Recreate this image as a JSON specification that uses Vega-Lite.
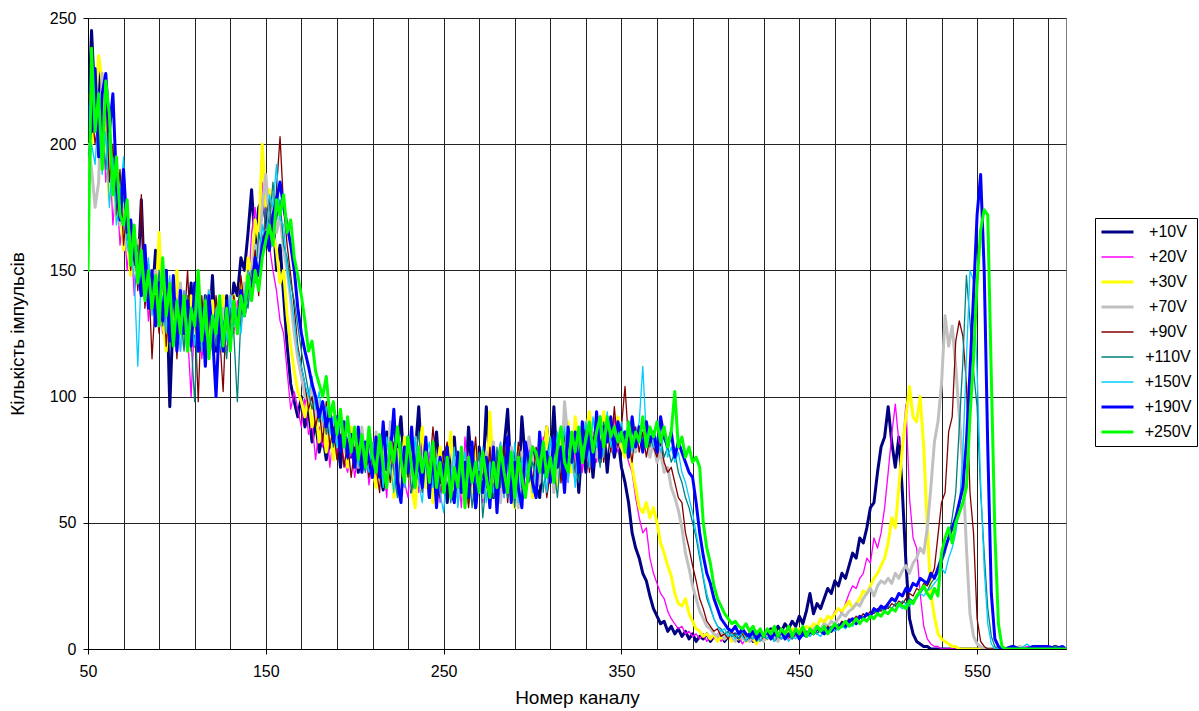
{
  "$schema": "https://vega.github.io/schema/vega-lite/v6.json",
  "width": 978,
  "height": 631,
  "autosize": "none",
  "padding": {"left": 88, "top": 18, "right": 133, "bottom": 62},
  "background": "white",
  "config": {
    "font": "Liberation Sans",
    "view": {"stroke": "#808080", "strokeWidth": 1},
    "axis": {
      "labelFont": "Liberation Sans",
      "titleFont": "Liberation Sans",
      "labelFontSize": 16,
      "titleFontSize": 19,
      "titleFontWeight": "normal",
      "labelColor": "#000",
      "titleColor": "#000",
      "domainColor": "#000",
      "tickColor": "#000",
      "gridColor": "#222",
      "gridOpacity": 1,
      "gridWidth": 1,
      "tickSize": 5
    }
  },
  "data": {"values": [
    {"x":50,"a":205,"b":190,"c":185,"d":200,"e":220,"f":195,"g":180,"h":215,"i":150},
    {"x":52,"a":245,"b":210,"c":200,"d":190,"e":215,"f":205,"g":200,"h":205,"i":238},
    {"x":54,"a":215,"b":220,"c":212,"d":175,"e":200,"f":225,"g":192,"h":230,"i":205},
    {"x":56,"a":230,"b":198,"c":235,"d":185,"e":210,"f":200,"g":215,"h":195,"i":220},
    {"x":58,"a":200,"b":215,"c":225,"d":228,"e":195,"f":210,"g":188,"h":220,"i":190},
    {"x":60,"a":210,"b":185,"c":205,"d":215,"e":222,"f":190,"g":205,"h":228,"i":225},
    {"x":62,"a":188,"b":200,"c":178,"d":195,"e":185,"f":208,"g":175,"h":205,"i":212},
    {"x":64,"a":195,"b":168,"c":190,"d":180,"e":200,"f":185,"g":195,"h":220,"i":180},
    {"x":66,"a":175,"b":185,"c":170,"d":190,"e":172,"f":178,"g":168,"h":185,"i":195},
    {"x":68,"a":182,"b":160,"c":180,"d":168,"e":190,"f":170,"g":178,"h":170,"i":172},
    {"x":70,"a":165,"b":172,"c":158,"d":175,"e":160,"f":180,"g":195,"h":190,"i":168},
    {"x":72,"a":172,"b":150,"c":165,"d":158,"e":175,"f":162,"g":160,"h":165,"i":178},
    {"x":74,"a":155,"b":165,"c":148,"d":170,"e":150,"f":168,"g":155,"h":170,"i":152},
    {"x":76,"a":162,"b":140,"c":160,"d":150,"e":165,"f":152,"g":148,"h":155,"i":168},
    {"x":78,"a":148,"b":155,"c":150,"d":162,"e":142,"f":160,"g":112,"h":150,"i":145},
    {"x":80,"a":178,"b":145,"c":140,"d":148,"e":180,"f":142,"g":150,"h":140,"i":158},
    {"x":82,"a":140,"b":152,"c":155,"d":140,"e":135,"f":150,"g":140,"h":160,"i":138},
    {"x":84,"a":150,"b":130,"c":138,"d":152,"e":150,"f":138,"g":155,"h":135,"i":150},
    {"x":86,"a":138,"b":145,"c":150,"d":135,"e":115,"f":148,"g":132,"h":150,"i":135},
    {"x":88,"a":158,"b":128,"c":135,"d":150,"e":140,"f":132,"g":145,"h":128,"i":148},
    {"x":90,"a":132,"b":140,"c":165,"d":138,"e":125,"f":150,"g":130,"h":145,"i":128},
    {"x":92,"a":145,"b":125,"c":130,"d":148,"e":150,"f":128,"g":140,"h":130,"i":155},
    {"x":94,"a":150,"b":138,"c":118,"d":130,"e":120,"f":145,"g":125,"h":150,"i":132},
    {"x":96,"a":96,"b":130,"c":145,"d":140,"e":138,"f":120,"g":148,"h":122,"i":145},
    {"x":98,"a":135,"b":120,"c":128,"d":125,"e":145,"f":140,"g":122,"h":148,"i":120},
    {"x":100,"a":140,"b":135,"c":150,"d":132,"e":115,"f":125,"g":138,"h":118,"i":138},
    {"x":102,"a":125,"b":118,"c":122,"d":145,"e":140,"f":135,"g":118,"h":142,"i":125},
    {"x":104,"a":138,"b":142,"c":135,"d":120,"e":128,"f":118,"g":142,"h":125,"i":140},
    {"x":106,"a":128,"b":125,"c":118,"d":138,"e":150,"f":140,"g":126,"h":138,"i":118},
    {"x":108,"a":145,"b":100,"c":140,"d":128,"e":118,"f":122,"g":132,"h":120,"i":135},
    {"x":110,"a":120,"b":132,"c":125,"d":140,"e":135,"f":98,"g":120,"h":145,"i":128},
    {"x":112,"a":132,"b":138,"c":148,"d":118,"e":98,"f":135,"g":140,"h":118,"i":150},
    {"x":114,"a":118,"b":115,"c":120,"d":135,"e":140,"f":125,"g":118,"h":135,"i":122},
    {"x":116,"a":140,"b":128,"c":132,"d":125,"e":120,"f":140,"g":130,"h":112,"i":138},
    {"x":118,"a":125,"b":118,"c":115,"d":142,"e":135,"f":118,"g":142,"h":140,"i":115},
    {"x":120,"a":148,"b":135,"c":138,"d":120,"e":118,"f":132,"g":120,"h":125,"i":132},
    {"x":122,"a":118,"b":122,"c":125,"d":130,"e":140,"f":120,"g":135,"h":100,"i":125},
    {"x":124,"a":135,"b":140,"c":118,"d":118,"e":125,"f":138,"g":118,"h":132,"i":140},
    {"x":126,"a":122,"b":125,"c":140,"d":135,"e":102,"f":125,"g":130,"h":118,"i":120},
    {"x":128,"a":140,"b":118,"c":128,"d":125,"e":138,"f":115,"g":122,"h":138,"i":135},
    {"x":130,"a":130,"b":135,"c":120,"d":140,"e":122,"f":135,"g":140,"h":122,"i":118},
    {"x":132,"a":145,"b":125,"c":140,"d":128,"e":140,"f":125,"g":128,"h":135,"i":138},
    {"x":134,"a":140,"b":138,"c":125,"d":135,"e":130,"f":98,"g":135,"h":128,"i":125},
    {"x":136,"a":155,"b":130,"c":145,"d":130,"e":148,"f":132,"g":125,"h":142,"i":140},
    {"x":138,"a":150,"b":145,"c":135,"d":145,"e":135,"f":140,"g":140,"h":132,"i":132},
    {"x":140,"a":165,"b":140,"c":155,"d":138,"e":150,"f":135,"g":150,"h":145,"i":148},
    {"x":142,"a":182,"b":165,"c":148,"d":150,"e":145,"f":150,"g":142,"h":140,"i":138},
    {"x":144,"a":160,"b":175,"c":170,"d":160,"e":158,"f":145,"g":155,"h":155,"i":150},
    {"x":146,"a":175,"b":158,"c":162,"d":155,"e":140,"f":165,"g":150,"h":148,"i":142},
    {"x":148,"a":178,"b":185,"c":200,"d":175,"e":162,"f":158,"g":168,"h":160,"i":155},
    {"x":150,"a":170,"b":168,"c":175,"d":188,"e":170,"f":175,"g":160,"h":165,"i":162},
    {"x":152,"a":158,"b":160,"c":182,"d":168,"e":178,"f":168,"g":180,"h":158,"i":168},
    {"x":154,"a":172,"b":150,"c":165,"d":180,"e":160,"f":185,"g":175,"h":172,"i":160},
    {"x":156,"a":150,"b":142,"c":158,"d":165,"e":182,"f":170,"g":192,"h":178,"i":178},
    {"x":158,"a":160,"b":130,"c":145,"d":172,"e":203,"f":178,"g":170,"h":185,"i":172},
    {"x":160,"a":140,"b":125,"c":150,"d":158,"e":175,"f":160,"g":168,"h":175,"i":180},
    {"x":162,"a":120,"b":110,"c":132,"d":150,"e":160,"f":155,"g":150,"h":168,"i":165},
    {"x":164,"a":105,"b":95,"c":120,"d":138,"e":148,"f":145,"g":140,"h":160,"i":170},
    {"x":166,"a":98,"b":102,"c":110,"d":125,"e":135,"f":138,"g":130,"h":150,"i":155},
    {"x":168,"a":92,"b":95,"c":102,"d":115,"e":120,"f":128,"g":118,"h":135,"i":148},
    {"x":170,"a":100,"b":88,"c":98,"d":108,"e":112,"f":118,"g":112,"h":125,"i":140},
    {"x":172,"a":88,"b":100,"c":92,"d":100,"e":105,"f":110,"g":105,"h":118,"i":130},
    {"x":174,"a":95,"b":85,"c":100,"d":98,"e":95,"f":102,"g":100,"h":112,"i":118},
    {"x":176,"a":82,"b":90,"c":88,"d":105,"e":100,"f":95,"g":108,"h":105,"i":122},
    {"x":178,"a":90,"b":75,"c":95,"d":92,"e":88,"f":100,"g":95,"h":100,"i":110},
    {"x":180,"a":78,"b":88,"c":82,"d":98,"e":95,"f":90,"g":102,"h":92,"i":105},
    {"x":182,"a":85,"b":80,"c":90,"d":88,"e":82,"f":98,"g":90,"h":98,"i":100},
    {"x":184,"a":75,"b":92,"c":78,"d":95,"e":98,"f":85,"g":96,"h":88,"i":108},
    {"x":186,"a":82,"b":72,"c":88,"d":85,"e":80,"f":92,"g":85,"h":95,"i":92},
    {"x":188,"a":78,"b":85,"c":75,"d":92,"e":88,"f":80,"g":92,"h":82,"i":98},
    {"x":190,"a":85,"b":78,"c":90,"d":80,"e":75,"f":88,"g":80,"h":92,"i":85},
    {"x":192,"a":72,"b":82,"c":80,"d":88,"e":85,"f":78,"g":90,"h":78,"i":95},
    {"x":194,"a":88,"b":75,"c":85,"d":78,"e":72,"f":85,"g":82,"h":90,"i":80},
    {"x":196,"a":80,"b":70,"c":72,"d":90,"e":82,"f":75,"g":88,"h":76,"i":92},
    {"x":198,"a":76,"b":80,"c":88,"d":82,"e":68,"f":82,"g":78,"h":85,"i":78},
    {"x":200,"a":82,"b":68,"c":75,"d":85,"e":80,"f":72,"g":85,"h":72,"i":88},
    {"x":202,"a":70,"b":78,"c":82,"d":72,"e":75,"f":80,"g":72,"h":88,"i":75},
    {"x":204,"a":85,"b":72,"c":70,"d":88,"e":70,"f":76,"g":82,"h":70,"i":85},
    {"x":206,"a":72,"b":82,"c":78,"d":75,"e":82,"f":70,"g":75,"h":82,"i":72},
    {"x":208,"a":78,"b":65,"c":85,"d":80,"e":68,"f":82,"g":70,"h":75,"i":88},
    {"x":210,"a":68,"b":75,"c":72,"d":70,"e":78,"f":74,"g":82,"h":68,"i":76},
    {"x":212,"a":82,"b":68,"c":64,"d":86,"e":72,"f":79,"g":70,"h":84,"i":70},
    {"x":214,"a":71,"b":80,"c":83,"d":70,"e":62,"f":73,"g":81,"h":68,"i":85},
    {"x":216,"a":63,"b":74,"c":77,"d":81,"e":88,"f":70,"g":64,"h":90,"i":72},
    {"x":218,"a":86,"b":60,"c":68,"d":66,"e":76,"f":65,"g":84,"h":71,"i":64},
    {"x":220,"a":78,"b":85,"c":80,"d":90,"e":66,"f":84,"g":73,"h":77,"i":82},
    {"x":222,"a":66,"b":70,"c":60,"d":72,"e":82,"f":71,"g":62,"h":95,"i":74},
    {"x":224,"a":80,"b":64,"c":79,"d":62,"e":70,"f":60,"g":88,"h":66,"i":88},
    {"x":226,"a":92,"b":78,"c":68,"d":80,"e":60,"f":82,"g":74,"h":58,"i":75},
    {"x":228,"a":70,"b":66,"c":84,"d":71,"e":78,"f":68,"g":64,"h":80,"i":66},
    {"x":230,"a":84,"b":60,"c":72,"d":77,"e":68,"f":76,"g":82,"h":70,"i":84},
    {"x":232,"a":62,"b":82,"c":64,"d":65,"e":86,"f":62,"g":70,"h":88,"i":72},
    {"x":234,"a":77,"b":70,"c":56,"d":84,"e":64,"f":74,"g":84,"h":66,"i":64},
    {"x":236,"a":96,"b":62,"c":78,"d":68,"e":74,"f":86,"g":66,"h":75,"i":80},
    {"x":238,"a":70,"b":84,"c":88,"d":74,"e":62,"f":68,"g":58,"h":64,"i":70},
    {"x":240,"a":80,"b":68,"c":64,"d":82,"e":78,"f":80,"g":76,"h":84,"i":78},
    {"x":242,"a":60,"b":78,"c":74,"d":66,"e":70,"f":64,"g":82,"h":60,"i":66},
    {"x":244,"a":74,"b":64,"c":58,"d":78,"e":88,"f":75,"g":64,"h":80,"i":82},
    {"x":246,"a":86,"b":76,"c":70,"d":62,"e":72,"f":60,"g":76,"h":56,"i":64},
    {"x":248,"a":66,"b":58,"c":80,"d":76,"e":60,"f":72,"g":62,"h":76,"i":74},
    {"x":250,"a":78,"b":72,"c":62,"d":70,"e":76,"f":64,"g":54,"h":68,"i":62},
    {"x":252,"a":58,"b":80,"c":72,"d":80,"e":82,"f":78,"g":74,"h":80,"i":76},
    {"x":254,"a":72,"b":62,"c":86,"d":64,"e":66,"f":58,"g":66,"h":64,"i":60},
    {"x":256,"a":84,"b":76,"c":64,"d":76,"e":60,"f":70,"g":80,"h":58,"i":72},
    {"x":258,"a":64,"b":70,"c":78,"d":60,"e":78,"f":64,"g":56,"h":78,"i":64},
    {"x":260,"a":76,"b":56,"c":68,"d":74,"e":64,"f":80,"g":70,"h":62,"i":80},
    {"x":262,"a":60,"b":84,"c":58,"d":70,"e":74,"f":62,"g":78,"h":74,"i":56},
    {"x":264,"a":88,"b":66,"c":74,"d":58,"e":56,"f":74,"g":64,"h":60,"i":76},
    {"x":266,"a":70,"b":74,"c":62,"d":80,"e":70,"f":56,"g":72,"h":82,"i":66},
    {"x":268,"a":56,"b":60,"c":80,"d":66,"e":84,"f":70,"g":60,"h":56,"i":74},
    {"x":270,"a":80,"b":76,"c":64,"d":74,"e":62,"f":78,"g":72,"h":70,"i":62},
    {"x":272,"a":68,"b":58,"c":76,"d":60,"e":76,"f":52,"g":80,"h":62,"i":78},
    {"x":274,"a":96,"b":70,"c":60,"d":78,"e":64,"f":66,"g":58,"h":76,"i":68},
    {"x":276,"a":72,"b":80,"c":94,"d":68,"e":80,"f":74,"g":74,"h":56,"i":60},
    {"x":278,"a":60,"b":62,"c":70,"d":82,"e":60,"f":60,"g":62,"h":80,"i":74},
    {"x":280,"a":76,"b":74,"c":58,"d":64,"e":76,"f":80,"g":70,"h":54,"i":64},
    {"x":282,"a":64,"b":82,"c":76,"d":58,"e":66,"f":64,"g":82,"h":78,"i":80},
    {"x":284,"a":80,"b":60,"c":66,"d":76,"e":80,"f":76,"g":60,"h":62,"i":70},
    {"x":286,"a":95,"b":72,"c":80,"d":62,"e":58,"f":60,"g":74,"h":84,"i":62},
    {"x":288,"a":66,"b":64,"c":68,"d":80,"e":76,"f":72,"g":64,"h":58,"i":78},
    {"x":290,"a":78,"b":70,"c":56,"d":70,"e":64,"f":56,"g":82,"h":74,"i":60},
    {"x":292,"a":62,"b":56,"c":80,"d":56,"e":82,"f":78,"g":58,"h":64,"i":76},
    {"x":294,"a":92,"b":78,"c":64,"d":78,"e":68,"f":64,"g":76,"h":56,"i":68},
    {"x":296,"a":74,"b":62,"c":78,"d":70,"e":60,"f":80,"g":68,"h":82,"i":60},
    {"x":298,"a":70,"b":80,"c":72,"d":84,"e":74,"f":66,"g":78,"h":74,"i":72},
    {"x":300,"a":80,"b":74,"c":60,"d":76,"e":64,"f":74,"g":62,"h":66,"i":80},
    {"x":302,"a":64,"b":76,"c":66,"d":64,"e":80,"f":70,"g":74,"h":60,"i":78},
    {"x":304,"a":60,"b":66,"c":80,"d":66,"e":72,"f":82,"g":80,"h":86,"i":70},
    {"x":306,"a":76,"b":84,"c":74,"d":82,"e":78,"f":62,"g":72,"h":70,"i":82},
    {"x":308,"a":88,"b":70,"c":88,"d":74,"e":60,"f":76,"g":62,"h":78,"i":68},
    {"x":310,"a":72,"b":78,"c":70,"d":80,"e":70,"f":84,"g":84,"h":66,"i":76},
    {"x":312,"a":96,"b":64,"c":78,"d":62,"e":84,"f":72,"g":70,"h":84,"i":66},
    {"x":314,"a":70,"b":80,"c":64,"d":72,"e":82,"f":60,"g":86,"h":72,"i":80},
    {"x":316,"a":82,"b":72,"c":84,"d":66,"e":66,"f":78,"g":76,"h":80,"i":88},
    {"x":318,"a":66,"b":86,"c":76,"d":98,"e":86,"f":70,"g":88,"h":62,"i":74},
    {"x":320,"a":86,"b":66,"c":90,"d":82,"e":72,"f":86,"g":66,"h":88,"i":70},
    {"x":322,"a":74,"b":84,"c":70,"d":76,"e":82,"f":80,"g":80,"h":74,"i":86},
    {"x":324,"a":84,"b":74,"c":92,"d":68,"e":70,"f":72,"g":64,"h":86,"i":78},
    {"x":326,"a":62,"b":88,"c":80,"d":84,"e":84,"f":66,"g":88,"h":70,"i":88},
    {"x":328,"a":82,"b":70,"c":74,"d":88,"e":76,"f":86,"g":78,"h":90,"i":74},
    {"x":330,"a":70,"b":84,"c":86,"d":90,"e":88,"f":80,"g":90,"h":76,"i":84},
    {"x":332,"a":86,"b":76,"c":94,"d":72,"e":70,"f":88,"g":72,"h":84,"i":90},
    {"x":334,"a":68,"b":86,"c":80,"d":84,"e":84,"f":74,"g":92,"h":72,"i":78},
    {"x":336,"a":84,"b":74,"c":88,"d":76,"e":80,"f":86,"g":80,"h":94,"i":86},
    {"x":338,"a":74,"b":90,"c":78,"d":92,"e":92,"f":72,"g":88,"h":76,"i":92},
    {"x":340,"a":88,"b":76,"c":94,"d":80,"e":74,"f":90,"g":76,"h":88,"i":80},
    {"x":342,"a":70,"b":88,"c":84,"d":88,"e":86,"f":82,"g":94,"h":82,"i":92},
    {"x":344,"a":86,"b":80,"c":90,"d":78,"e":78,"f":92,"g":80,"h":92,"i":84},
    {"x":346,"a":76,"b":92,"c":82,"d":86,"e":96,"f":78,"g":88,"h":78,"i":88},
    {"x":348,"a":84,"b":78,"c":92,"d":80,"e":80,"f":88,"g":84,"h":90,"i":82},
    {"x":350,"a":72,"b":86,"c":80,"d":84,"e":88,"f":82,"g":90,"h":84,"i":86},
    {"x":352,"a":66,"b":80,"c":76,"d":82,"e":104,"f":84,"g":80,"h":86,"i":78},
    {"x":354,"a":58,"b":74,"c":84,"d":76,"e":82,"f":78,"g":86,"h":76,"i":90},
    {"x":356,"a":46,"b":70,"c":72,"d":86,"e":74,"f":90,"g":78,"h":92,"i":80},
    {"x":358,"a":40,"b":60,"c":64,"d":78,"e":88,"f":80,"g":84,"h":80,"i":86},
    {"x":360,"a":36,"b":52,"c":56,"d":88,"e":78,"f":86,"g":90,"h":88,"i":82},
    {"x":362,"a":30,"b":46,"c":54,"d":80,"e":86,"f":82,"g":112,"h":78,"i":92},
    {"x":364,"a":27,"b":48,"c":58,"d":84,"e":76,"f":88,"g":84,"h":90,"i":80},
    {"x":366,"a":21,"b":36,"c":52,"d":76,"e":84,"f":80,"g":88,"h":82,"i":88},
    {"x":368,"a":16,"b":30,"c":56,"d":82,"e":80,"f":86,"g":80,"h":86,"i":84},
    {"x":370,"a":13,"b":26,"c":50,"d":74,"e":76,"f":78,"g":84,"h":78,"i":90},
    {"x":372,"a":10,"b":22,"c":42,"d":78,"e":82,"f":84,"g":78,"h":92,"i":82},
    {"x":374,"a":11,"b":20,"c":38,"d":70,"e":74,"f":76,"g":86,"h":84,"i":88},
    {"x":376,"a":7,"b":15,"c":33,"d":72,"e":70,"f":80,"g":76,"h":80,"i":80},
    {"x":378,"a":9,"b":12,"c":29,"d":64,"e":72,"f":74,"g":80,"h":86,"i":86},
    {"x":380,"a":6,"b":10,"c":22,"d":60,"e":66,"f":78,"g":74,"h":76,"i":102},
    {"x":382,"a":8,"b":8,"c":18,"d":55,"e":60,"f":70,"g":78,"h":82,"i":80},
    {"x":384,"a":5,"b":9,"c":17,"d":48,"e":58,"f":66,"g":70,"h":78,"i":84},
    {"x":386,"a":7,"b":6,"c":20,"d":38,"e":46,"f":60,"g":66,"h":74,"i":76},
    {"x":388,"a":4,"b":7,"c":14,"d":32,"e":40,"f":56,"g":60,"h":70,"i":80},
    {"x":390,"a":6,"b":5,"c":11,"d":25,"e":33,"f":50,"g":54,"h":68,"i":74},
    {"x":392,"a":3,"b":6,"c":8,"d":20,"e":27,"f":44,"g":46,"h":58,"i":76},
    {"x":394,"a":5,"b":4,"c":7,"d":15,"e":20,"f":36,"g":38,"h":46,"i":72},
    {"x":396,"a":4,"b":6,"c":5,"d":12,"e":16,"f":28,"g":29,"h":37,"i":50},
    {"x":398,"a":6,"b":3,"c":6,"d":9,"e":11,"f":20,"g":22,"h":30,"i":40},
    {"x":400,"a":3,"b":5,"c":4,"d":8,"e":9,"f":16,"g":17,"h":26,"i":34},
    {"x":402,"a":5,"b":4,"c":6,"d":6,"e":7,"f":12,"g":12,"h":20,"i":25},
    {"x":404,"a":4,"b":6,"c":3,"d":5,"e":8,"f":9,"g":9,"h":16,"i":20},
    {"x":406,"a":6,"b":3,"c":5,"d":7,"e":5,"f":8,"g":7,"h":12,"i":17},
    {"x":408,"a":3,"b":5,"c":4,"d":4,"e":6,"f":6,"g":8,"h":10,"i":14},
    {"x":410,"a":5,"b":4,"c":6,"d":6,"e":4,"f":7,"g":5,"h":8,"i":12},
    {"x":412,"a":4,"b":6,"c":3,"d":5,"e":7,"f":5,"g":6,"h":7,"i":10},
    {"x":414,"a":6,"b":3,"c":5,"d":3,"e":5,"f":6,"g":4,"h":9,"i":11},
    {"x":416,"a":3,"b":5,"c":4,"d":6,"e":4,"f":4,"g":7,"h":6,"i":9},
    {"x":418,"a":5,"b":2,"c":6,"d":4,"e":6,"f":7,"g":5,"h":8,"i":8},
    {"x":420,"a":4,"b":4,"c":3,"d":5,"e":3,"f":5,"g":3,"h":6,"i":10},
    {"x":422,"a":6,"b":5,"c":5,"d":3,"e":5,"f":4,"g":6,"h":5,"i":7},
    {"x":424,"a":3,"b":3,"c":4,"d":6,"e":4,"f":6,"g":4,"h":7,"i":9},
    {"x":426,"a":5,"b":6,"c":2,"d":4,"e":6,"f":3,"g":5,"h":4,"i":6},
    {"x":428,"a":7,"b":4,"c":5,"d":5,"e":3,"f":5,"g":3,"h":6,"i":8},
    {"x":430,"a":4,"b":3,"c":6,"d":3,"e":5,"f":6,"g":6,"h":5,"i":5},
    {"x":432,"a":6,"b":5,"c":4,"d":6,"e":4,"f":4,"g":4,"h":7,"i":8},
    {"x":434,"a":8,"b":4,"c":7,"d":4,"e":6,"f":5,"g":5,"h":4,"i":6},
    {"x":436,"a":5,"b":6,"c":5,"d":5,"e":3,"f":3,"g":3,"h":6,"i":9},
    {"x":438,"a":9,"b":3,"c":6,"d":3,"e":5,"f":6,"g":6,"h":5,"i":5},
    {"x":440,"a":7,"b":5,"c":5,"d":6,"e":4,"f":4,"g":4,"h":7,"i":8},
    {"x":442,"a":10,"b":6,"c":7,"d":4,"e":6,"f":5,"g":6,"h":4,"i":6},
    {"x":444,"a":8,"b":4,"c":6,"d":6,"e":5,"f":6,"g":3,"h":6,"i":9},
    {"x":446,"a":11,"b":7,"c":8,"d":5,"e":4,"f":4,"g":5,"h":5,"i":5},
    {"x":448,"a":9,"b":5,"c":6,"d":7,"e":6,"f":6,"g":4,"h":7,"i":8},
    {"x":450,"a":13,"b":8,"c":8,"d":6,"e":5,"f":5,"g":6,"h":4,"i":6},
    {"x":452,"a":10,"b":7,"c":7,"d":8,"e":7,"f":6,"g":5,"h":6,"i":9},
    {"x":454,"a":15,"b":9,"c":9,"d":7,"e":6,"f":7,"g":6,"h":5,"i":5},
    {"x":456,"a":22,"b":8,"c":8,"d":6,"e":8,"f":5,"g":5,"h":7,"i":8},
    {"x":458,"a":14,"b":10,"c":10,"d":8,"e":7,"f":7,"g":7,"h":6,"i":6},
    {"x":460,"a":18,"b":9,"c":9,"d":9,"e":6,"f":6,"g":6,"h":8,"i":9},
    {"x":462,"a":16,"b":12,"c":12,"d":8,"e":8,"f":8,"g":5,"h":7,"i":7},
    {"x":464,"a":20,"b":11,"c":10,"d":10,"e":7,"f":7,"g":7,"h":6,"i":9},
    {"x":466,"a":24,"b":13,"c":13,"d":9,"e":9,"f":8,"g":6,"h":8,"i":6},
    {"x":468,"a":22,"b":12,"c":12,"d":11,"e":8,"f":9,"g":8,"h":7,"i":8},
    {"x":470,"a":27,"b":15,"c":14,"d":10,"e":10,"f":8,"g":7,"h":9,"i":10},
    {"x":472,"a":25,"b":16,"c":16,"d":12,"e":9,"f":10,"g":8,"h":8,"i":8},
    {"x":474,"a":30,"b":14,"c":15,"d":14,"e":11,"f":9,"g":9,"h":10,"i":9},
    {"x":476,"a":28,"b":18,"c":17,"d":13,"e":10,"f":11,"g":8,"h":9,"i":11},
    {"x":478,"a":33,"b":22,"c":19,"d":15,"e":12,"f":10,"g":10,"h":11,"i":9},
    {"x":480,"a":38,"b":25,"c":16,"d":16,"e":11,"f":12,"g":9,"h":12,"i":10},
    {"x":482,"a":36,"b":24,"c":18,"d":18,"e":13,"f":11,"g":11,"h":10,"i":12},
    {"x":484,"a":44,"b":28,"c":20,"d":17,"e":12,"f":13,"g":10,"h":13,"i":10},
    {"x":486,"a":42,"b":30,"c":23,"d":20,"e":14,"f":12,"g":12,"h":12,"i":12},
    {"x":488,"a":48,"b":36,"c":22,"d":22,"e":13,"f":14,"g":11,"h":14,"i":11},
    {"x":490,"a":56,"b":34,"c":25,"d":24,"e":15,"f":13,"g":13,"h":13,"i":13},
    {"x":492,"a":58,"b":44,"c":28,"d":21,"e":14,"f":15,"g":12,"h":16,"i":12},
    {"x":494,"a":70,"b":40,"c":30,"d":25,"e":16,"f":14,"g":14,"h":15,"i":14},
    {"x":496,"a":80,"b":46,"c":33,"d":27,"e":15,"f":16,"g":13,"h":17,"i":13},
    {"x":498,"a":84,"b":56,"c":36,"d":26,"e":17,"f":15,"g":15,"h":16,"i":15},
    {"x":500,"a":96,"b":70,"c":42,"d":28,"e":16,"f":17,"g":14,"h":18,"i":14},
    {"x":502,"a":82,"b":85,"c":52,"d":26,"e":18,"f":16,"g":16,"h":20,"i":16},
    {"x":504,"a":72,"b":97,"c":48,"d":30,"e":17,"f":18,"g":15,"h":19,"i":15},
    {"x":506,"a":84,"b":82,"c":64,"d":28,"e":19,"f":17,"g":17,"h":22,"i":18},
    {"x":508,"a":62,"b":80,"c":80,"d":31,"e":18,"f":19,"g":16,"h":21,"i":17},
    {"x":510,"a":34,"b":97,"c":92,"d":33,"e":20,"f":18,"g":18,"h":24,"i":16},
    {"x":512,"a":12,"b":60,"c":104,"d":30,"e":22,"f":20,"g":17,"h":23,"i":19},
    {"x":514,"a":6,"b":44,"c":92,"d":34,"e":21,"f":19,"g":19,"h":26,"i":18},
    {"x":516,"a":3,"b":40,"c":90,"d":36,"e":24,"f":21,"g":20,"h":25,"i":21},
    {"x":518,"a":2,"b":22,"c":100,"d":40,"e":23,"f":22,"g":22,"h":28,"i":23},
    {"x":520,"a":1,"b":9,"c":80,"d":38,"e":26,"f":24,"g":21,"h":27,"i":25},
    {"x":522,"a":1,"b":4,"c":48,"d":48,"e":25,"f":23,"g":23,"h":26,"i":22},
    {"x":524,"a":0,"b":2,"c":22,"d":64,"e":28,"f":26,"g":24,"h":30,"i":20},
    {"x":526,"a":0,"b":1,"c":13,"d":82,"e":32,"f":28,"g":26,"h":28,"i":24},
    {"x":528,"a":0,"b":1,"c":6,"d":90,"e":45,"f":30,"g":28,"h":32,"i":21},
    {"x":530,"a":0,"b":0,"c":4,"d":105,"e":58,"f":34,"g":32,"h":36,"i":38},
    {"x":532,"a":0,"b":0,"c":3,"d":132,"e":62,"f":38,"g":30,"h":40,"i":44},
    {"x":534,"a":0,"b":0,"c":2,"d":120,"e":86,"f":44,"g":36,"h":44,"i":48},
    {"x":536,"a":0,"b":0,"c":1,"d":128,"e":92,"f":52,"g":40,"h":48,"i":42},
    {"x":538,"a":0,"b":0,"c":1,"d":112,"e":122,"f":62,"g":46,"h":52,"i":50},
    {"x":540,"a":0,"b":0,"c":0,"d":92,"e":130,"f":88,"g":56,"h":58,"i":54},
    {"x":542,"a":0,"b":0,"c":0,"d":72,"e":124,"f":114,"g":78,"h":64,"i":58},
    {"x":544,"a":0,"b":0,"c":0,"d":40,"e":105,"f":148,"g":115,"h":82,"i":64},
    {"x":546,"a":0,"b":0,"c":0,"d":14,"e":62,"f":130,"g":150,"h":110,"i":92},
    {"x":548,"a":0,"b":0,"c":0,"d":5,"e":46,"f":110,"g":146,"h":140,"i":115},
    {"x":550,"a":0,"b":0,"c":0,"d":2,"e":12,"f":96,"g":110,"h":172,"i":145},
    {"x":552,"a":0,"b":0,"c":0,"d":1,"e":3,"f":62,"g":66,"h":188,"i":166},
    {"x":554,"a":0,"b":0,"c":0,"d":0,"e":1,"f":38,"g":32,"h":150,"i":174},
    {"x":556,"a":0,"b":0,"c":0,"d":0,"e":0,"f":16,"g":10,"h":80,"i":172},
    {"x":558,"a":0,"b":0,"c":0,"d":0,"e":0,"f":5,"g":2,"h":22,"i":108},
    {"x":560,"a":0,"b":0,"c":0,"d":0,"e":0,"f":1,"g":0,"h":4,"i":46},
    {"x":562,"a":0,"b":0,"c":0,"d":0,"e":0,"f":0,"g":0,"h":1,"i":10},
    {"x":564,"a":0,"b":0,"c":0,"d":0,"e":0,"f":0,"g":0,"h":0,"i":1},
    {"x":566,"a":0,"b":0,"c":0,"d":0,"e":0,"f":0,"g":0,"h":0,"i":0},
    {"x":570,"a":1,"b":0,"c":0,"d":0,"e":0,"f":0,"g":0,"h":1,"i":0},
    {"x":574,"a":0,"b":0,"c":0,"d":1,"e":0,"f":0,"g":0,"h":0,"i":0},
    {"x":578,"a":0,"b":1,"c":0,"d":0,"e":0,"f":0,"g":2,"h":0,"i":0},
    {"x":582,"a":1,"b":0,"c":0,"d":0,"e":1,"f":0,"g":0,"h":1,"i":0},
    {"x":586,"a":0,"b":0,"c":1,"d":0,"e":0,"f":0,"g":0,"h":1,"i":0},
    {"x":590,"a":0,"b":1,"c":0,"d":0,"e":0,"f":0,"g":0,"h":1,"i":0},
    {"x":594,"a":1,"b":0,"c":0,"d":0,"e":0,"f":1,"g":0,"h":0,"i":0},
    {"x":598,"a":0,"b":1,"c":0,"d":0,"e":1,"f":0,"g":0,"h":1,"i":0},
    {"x":600,"a":0,"b":0,"c":0,"d":0,"e":0,"f":0,"g":0,"h":0,"i":0}
  ]},
  "transform": [{"fold": ["a","b","c","d","e","f","g","h","i"], "as": ["s","v"]}],
  "mark": {"type": "line", "strokeJoin": "round", "strokeCap": "round", "clip": true},
  "encoding": {
    "x": {
      "field": "x", "type": "quantitative",
      "scale": {"domain": [50, 600], "nice": false, "zero": false},
      "axis": {
        "values": [50,70,90,110,130,150,170,190,210,230,250,270,290,310,330,350,370,390,410,430,450,470,490,510,530,550,570,590],
        "labelExpr": "datum.value % 100 == 50 ? datum.label : ''",
        "tickColor": {"condition": {"test": "datum.value % 100 == 50", "value": "#000"}, "value": "transparent"},
        "title": "Номер каналу",
        "grid": true,
        "labelPadding": 9,
        "labelFlush": false,
        "titlePadding": 9
      }
    },
    "y": {
      "field": "v", "type": "quantitative",
      "scale": {"domain": [0, 250], "nice": false},
      "axis": {
        "values": [0,50,100,150,200,250],
        "title": "Кількість імпульсів",
        "grid": true,
        "labelPadding": 7,
        "labelFlush": false,
        "titlePadding": 22
      }
    },
    "color": {
      "field": "s", "type": "nominal",
      "scale": {
        "domain": ["a","b","c","d","e","f","g","h","i"],
        "range": ["#000080","#FF00FF","#FFFF00","#C0C0C0","#800000","#008080","#00CCFF","#0000FF","#00FF00"]
      },
      "legend": {
        "orient": "none",
        "legendX": 1007,
        "legendY": 200,
        "title": null,
        "strokeColor": "#000",
        "fillColor": "#fff",
        "padding": 5,
        "symbolType": "stroke",
        "symbolSize": 1024,
        "clipHeight": 18,
        "rowPadding": 7,
        "labelFont": "Liberation Sans",
        "labelFontSize": 16,
        "labelColor": "#000",
        "labelAlign": "center",
        "labelOffset": 33,
        "labelExpr": "{'a':'+10V','b':'+20V','c':'+30V','d':'+70V','e':'+90V','f':'+110V','g':'+150V','h':'+190V','i':'+250V'}[datum.value]"
      }
    },
    "strokeWidth": {
      "field": "s", "type": "nominal",
      "scale": {
        "type": "ordinal",
        "domain": ["a","b","c","d","e","f","g","h","i"],
        "range": [3,1.3,3,3,1.3,1.3,1.3,3,3]
      },
      "legend": null
    }
  }
}
